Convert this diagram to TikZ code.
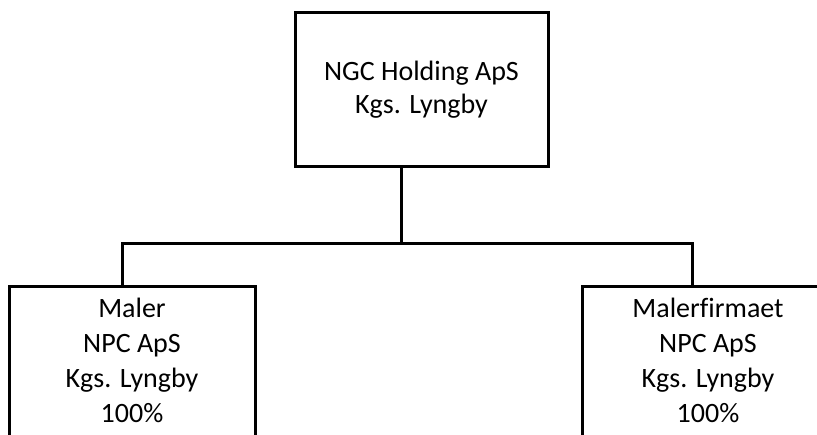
\documentclass[tikz,border=0pt]{standalone}
\usepackage{fontspec}
\setmainfont{Carlito}[Ligatures=CommonOff]
\usetikzlibrary{positioning}
\definecolor{LineColor}{RGB}{0,0,0}
\tikzstyle{orgbox} = [draw=LineColor, line width=3pt, align=center, inner ysep=1pt, font=\fontsize{28}{35}\selectfont]
\tikzstyle{link} = [LineColor, line width=3pt]
\newcommand{\topgap}{\rule{0pt}{30pt}}
\newcommand{\cutoff}{\rule[-40pt]{0pt}{0pt}}

\begin{document}
\begin{tikzpicture}[x=1pt, y=1pt]
    % Frame
    \clip (0,0) rectangle (817,435);

    % Holding company
    \node[orgbox, minimum width=253pt, minimum height=154pt, font=\fontsize{28}{33}\selectfont] (holding) at (421.5,345) {NGC Holding ApS\\Kgs. Lyngby};

    % Subsidiaries
    \node[orgbox, anchor=north, minimum width=246pt] (maler) at (132,150) {\topgap Maler\\NPC ApS\\Kgs. Lyngby\\100\%\cutoff};
    \node[orgbox, anchor=north, minimum width=252pt] (firma) at (708,150) {\topgap Malerfirmaet\\NPC ApS\\Kgs. Lyngby\\100\%\cutoff};

    % Connectors
    \coordinate (fork) at (401,191);
    \coordinate (forkL) at (122,191);
    \coordinate (forkR) at (692,191);
    \draw[link] (holding.south -| fork) -- (fork);
    \draw[link] (maler.north -| forkL) -- (forkL) -- (forkR) -- (firma.north -| forkR);
\end{tikzpicture}
\end{document}
